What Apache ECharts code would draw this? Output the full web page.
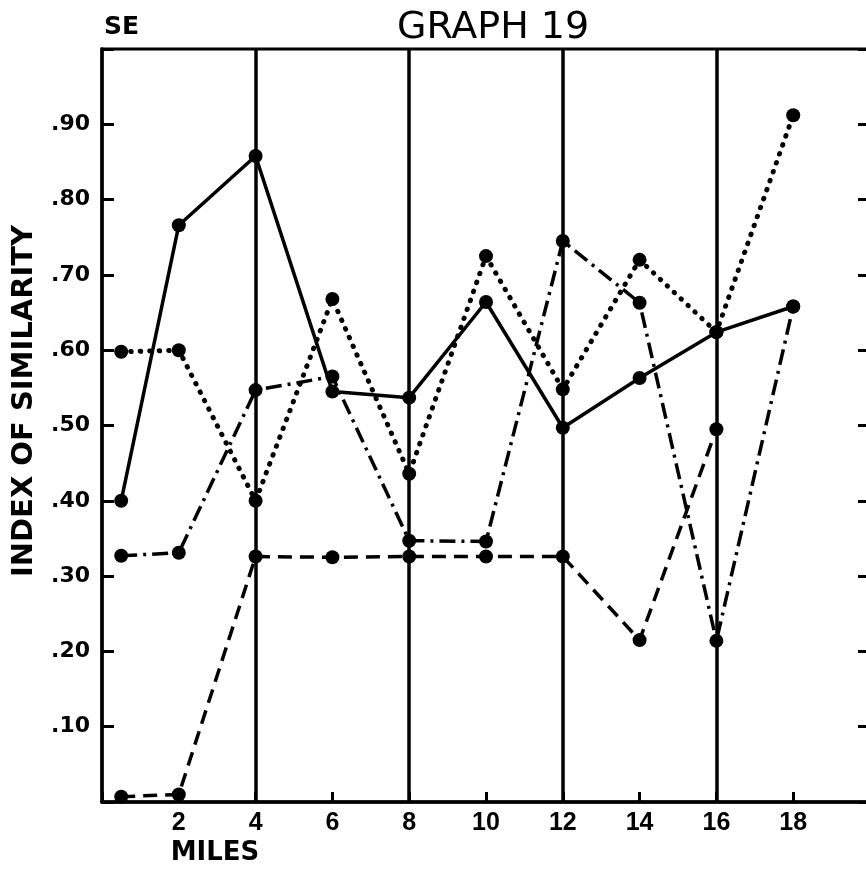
<!DOCTYPE html>
<html>
<head>
<meta charset="utf-8">
<script src="https://cdn.jsdelivr.net/npm/echarts@6/dist/echarts.min.js"></script>
<style>
  html, body { margin: 0; padding: 0; background: #fff; }
  #chart { width: 866px; height: 869px; }
</style>
</head>
<body>
<div id="chart"></div>
<script>
// Distance along the transect (miles) for every sampling station
const miles = [0.5, 2, 4, 6, 8, 10, 12, 14, 16, 18];

// Index of similarity, one array per line style
const solidSeries   = [0.40, 0.766, 0.858, 0.545, 0.537, 0.664, 0.497, 0.563, 0.624, 0.658];
const dottedSeries  = [0.598, 0.60, 0.40, 0.668, 0.436, 0.725, 0.548, 0.72, 0.624, 0.912];
const dashDotSeries = [0.327, 0.331, 0.547, 0.565, 0.347, 0.346, 0.745, 0.663, 0.214, 0.658];
const dashedSeries  = [0.007, 0.01, 0.326, 0.325, 0.326, 0.326, 0.326, 0.215, 0.495, null];

// Heavy vertical rules across the plot
const ruleMiles = [4, 8, 12, 16];

// Axis text
const yTickLabels = ['.10', '.20', '.30', '.40', '.50', '.60', '.70', '.80', '.90'];
const xTickLabels = ['2', '4', '6', '8', '10', '12', '14', '16', '18'];

const INK = '#000';
const pairs = arr => miles.map((m, i) => [m, arr[i]]);

function lineSeries(name, values, lineStyle) {
  return {
    name: name,
    type: 'line',
    data: pairs(values),
    connectNulls: false,
    symbol: 'circle',
    symbolSize: 14,
    itemStyle: { color: INK, borderWidth: 0 },
    lineStyle: Object.assign({ color: INK }, lineStyle),
    z: 3
  };
}

const chart = echarts.init(document.getElementById('chart'), null, { renderer: 'canvas' });

chart.setOption({
  animation: false,
  backgroundColor: '#fff',
  grid: {
    left: 102, top: 49, right: -4, bottom: 67,
    show: true, borderColor: INK, borderWidth: 3, backgroundColor: 'transparent',
    outerBoundsMode: 'none'
  },
  title: {
    text: 'GRAPH 19',
    left: 392, top: 4,
    textStyle: { fontFamily: 'DejaVu Sans', fontSize: 38, fontWeight: 'normal', color: INK }
  },
  graphic: [
    {
      type: 'text', left: 104, top: 15,
      style: { text: 'SE', fontFamily: 'DejaVu Sans', fontWeight: 'bold', fontSize: 25, fill: INK }
    },
    {
      type: 'text', x: 215, y: 853,
      style: { text: 'MILES', fontFamily: 'DejaVu Sans', fontWeight: 'bold', fontSize: 26,
               fill: INK, align: 'center', verticalAlign: 'middle' }
    },
    {
      type: 'text', x: 24, y: 401, rotation: Math.PI / 2,
      style: { text: 'INDEX OF SIMILARITY', fontFamily: 'DejaVu Sans', fontWeight: 'bold', fontSize: 29,
               fill: INK, align: 'center', verticalAlign: 'middle' }
    }
  ],
  xAxis: {
    type: 'value', min: 0, max: 20, interval: 2,
    axisLine: { show: true, lineStyle: { color: INK, width: 3.5 } },
    axisTick: { show: true, inside: true, length: 10, lineStyle: { color: INK, width: 3 } },
    splitLine: { show: false },
    axisLabel: {
      margin: 9, color: INK, fontFamily: 'Liberation Sans', fontWeight: 'bold', fontSize: 25,
      formatter: v => { const i = Math.round(v / 2) - 1; return (i >= 0 && i < xTickLabels.length) ? xTickLabels[i] : ''; }
    }
  },
  yAxis: [
    {
      type: 'value', min: 0, max: 1, interval: 0.1, position: 'left',
      axisLine: { show: true, lineStyle: { color: INK, width: 3.5 } },
      axisTick: { show: true, inside: true, length: 12, lineStyle: { color: INK, width: 3 } },
      splitLine: { show: false },
      axisLabel: {
        margin: 12, color: INK, fontFamily: 'DejaVu Sans', fontWeight: 'bold', fontSize: 22,
        formatter: v => { const i = Math.round(v * 10); return (i >= 1 && i <= 9) ? yTickLabels[i - 1] : ''; }
      }
    },
    {
      type: 'value', min: 0, max: 1, interval: 0.1, position: 'right',
      axisLine: { show: true, lineStyle: { color: INK, width: 3 } },
      axisTick: { show: true, inside: true, length: 12, lineStyle: { color: INK, width: 3 } },
      splitLine: { show: false },
      axisLabel: { show: false }
    }
  ],
  series: [
    Object.assign(lineSeries('solid', solidSeries, { type: 'solid', width: 3.5 }), {
      markLine: {
        silent: true, symbol: ['none', 'none'],
        label: { show: false },
        lineStyle: { color: INK, width: 3.5, type: 'solid' },
        data: ruleMiles.map(m => ({ xAxis: m }))
      }
    }),
    lineSeries('dotted', dottedSeries, { type: [0.5, 9], width: 5, cap: 'round' }),
    lineSeries('dashDot', dashDotSeries, { type: [16, 6, 3, 6], width: 3.5, cap: 'butt' }),
    lineSeries('dashed', dashedSeries, { type: [14, 8], width: 3.5, cap: 'butt' })
  ]
});
</script>
</body>
</html>
